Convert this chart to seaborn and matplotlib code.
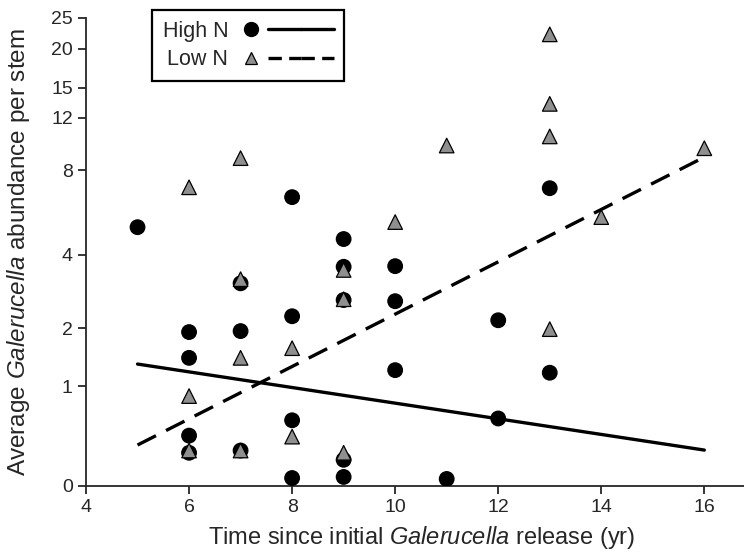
import numpy as np
import pandas as pd
import seaborn as sns
import matplotlib.pyplot as plt
from matplotlib.lines import Line2D
from matplotlib.legend_handler import HandlerTuple

# datos (abundancia media por tallo)
high_x = [5, 6, 6, 6, 6, 7, 7, 7, 8, 8, 8, 8, 9, 9, 9, 9, 9, 10, 10, 10, 11, 12, 12, 13, 13]
high_y = [5.06, 1.92, 1.44, 0.42, 0.26, 3.1, 1.94, 0.28, 6.47, 2.26, 0.58, 0.057,
          4.58, 3.6, 2.65, 0.2, 0.065, 3.62, 2.62, 1.24, 0.05, 2.17, 0.6, 6.95, 1.2]
low_x = [6, 6, 6, 7, 7, 7, 7, 8, 8, 9, 9, 9, 10, 11, 13, 13, 13, 13, 14, 16]
low_y = [7.0, 0.87, 0.28, 8.8, 3.22, 1.44, 0.28, 1.61, 0.41, 3.5, 2.67, 0.26,
         5.28, 9.7, 22.2, 13.3, 10.4, 1.98, 5.5, 9.5]

# rectas ajustadas (extremos)
fit_x = [5, 16]
high_fit = [1.337, 0.284]
low_fit = [0.33, 8.87]

yticks = [0, 1, 2, 4, 8, 12, 15, 20, 25]
xticks = [4, 6, 8, 10, 12, 14, 16]

pts = pd.DataFrame({
    "time": high_x + low_x,
    "abund": high_y + low_y,
    "N": ["High N"] * len(high_x) + ["Low N"] * len(low_x),
})
fits = pd.DataFrame({
    "time": fit_x + fit_x,
    "abund": high_fit + low_fit,
    "N": ["High N"] * 2 + ["Low N"] * 2,
})

sns.set_style("ticks")
plt.rcParams["font.family"] = ["Liberation Sans", "DejaVu Sans"]
plt.rcParams["mathtext.fontset"] = "custom"
plt.rcParams["mathtext.it"] = "Liberation Sans:italic"
plt.rcParams["mathtext.rm"] = "Liberation Sans"

fig = plt.figure(figsize=(7.44, 5.52), dpi=100)
ax = fig.add_axes([0.1156, 0.1196, 0.8844, 0.8478])
ax.set_yscale("function", functions=(np.log1p, np.expm1))

gris = "#8f8f8f"
lw = 2.4
sns.lineplot(data=fits, x="time", y="abund", style="N",
             dashes={"High N": "", "Low N": (6.2, 3.4)}, color="black",
             linewidth=lw, legend=False, ax=ax)
sns.scatterplot(data=pts, x="time", y="abund", hue="N", style="N",
                markers={"High N": "o", "Low N": "^"},
                palette={"High N": "black", "Low N": gris},
                edgecolor="black", linewidth=0.9, s=110, legend=False,
                ax=ax, zorder=3)

ax.set_xlim(4, 16.77)
ax.set_ylim(0, 25)
ax.set_xticks(xticks)
ax.set_yticks(yticks)
ax.set_yticklabels([str(t) for t in yticks])
ax.minorticks_off()
sns.despine(ax=ax)
for s in ["left", "bottom"]:
    ax.spines[s].set_linewidth(1.3)
ax.tick_params(labelsize=14, width=1.3, length=6, direction="out")

ax.set_xlabel(r"Time since initial $\mathit{Galerucella}$ release (yr)", fontsize=17)
ax.set_ylabel(r"Average $\mathit{Galerucella}$ abundance per stem", fontsize=17.5)
ax.xaxis.set_label_coords(0.51, -0.082)
ax.yaxis.set_label_coords(-0.082, 0.5)

# leyenda: texto, marcador y linea
h_pt = Line2D([], [], marker="o", color="black", linestyle="none", markersize=10)
l_pt = Line2D([], [], marker="^", markerfacecolor=gris, markeredgecolor="black",
              markeredgewidth=0.9, linestyle="none", markersize=9)
h_ln = Line2D([], [], color="black", linewidth=lw)
l_ln = Line2D([], [], color="black", linewidth=lw, dashes=(4, 2.2))
leg = ax.legend([(h_pt, h_ln, h_ln), (l_pt, l_ln, l_ln)], ["High N", "Low N"],
                handler_map={tuple: HandlerTuple(ndivide=None, pad=0)},
                markerfirst=False, handlelength=4.6, fontsize=15.5,
                loc="upper left", bbox_to_anchor=(0.1, 1.017), borderaxespad=0,
                fancybox=False, edgecolor="black", framealpha=1, borderpad=0.5,
                labelspacing=0.35, handletextpad=0.3)
leg.get_frame().set_linewidth(1.6)

fig.savefig("out.png", dpi=100)
